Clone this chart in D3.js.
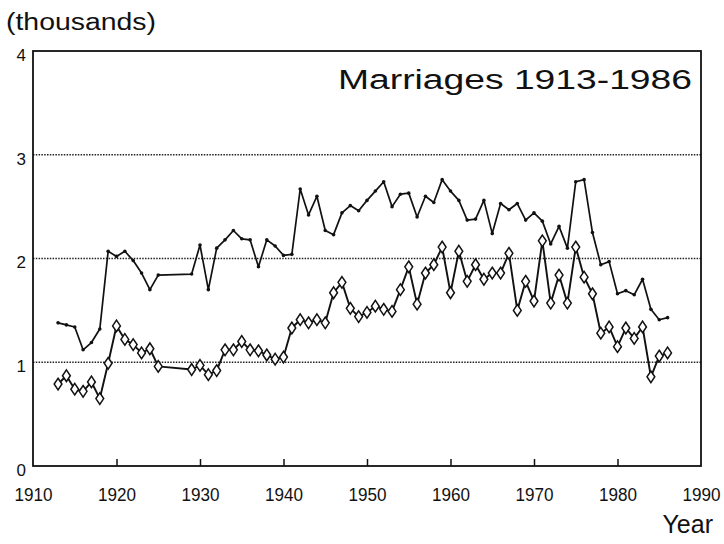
<!DOCTYPE html>
<html>
<head>
<meta charset="utf-8">
<script src="https://cdn.jsdelivr.net/npm/d3@7"></script>
<style>
  body { margin: 0; background: #fff; }
  text { font-family: "Liberation Sans", Arial, sans-serif; fill: #111; }
</style>
</head>
<body>
<div id="chart"></div>
<script>
// years 1913-1986, values in thousands (1926-1928 missing)
const years = d3.range(1913, 1987);
const lineSeries = [
  1.38, 1.36, 1.34, 1.12, 1.19, 1.32, 2.07, 2.02, 2.07, 1.98,
  1.86, 1.70, 1.84, null, null, null, 1.85, 2.13, 1.70, 2.10,
  2.18, 2.27, 2.19, 2.18, 1.92, 2.18, 2.12, 2.03, 2.04, 2.67,
  2.42, 2.60, 2.27, 2.23, 2.44, 2.51, 2.46, 2.56, 2.65, 2.74,
  2.50, 2.62, 2.63, 2.40, 2.60, 2.54, 2.76, 2.65, 2.56, 2.37,
  2.38, 2.56, 2.24, 2.53, 2.47, 2.53, 2.37, 2.44, 2.36, 2.14,
  2.31, 2.10, 2.74, 2.76, 2.25, 1.94, 1.97, 1.66, 1.69, 1.65,
  1.80, 1.51, 1.41, 1.43
];
const diamondSeries = [
  0.79, 0.87, 0.74, 0.72, 0.81, 0.65, 0.99, 1.35, 1.22, 1.17,
  1.09, 1.13, 0.96, null, null, null, 0.93, 0.97, 0.88, 0.92,
  1.12, 1.12, 1.20, 1.12, 1.11, 1.07, 1.03, 1.05, 1.33, 1.41,
  1.38, 1.41, 1.38, 1.67, 1.77, 1.52, 1.44, 1.48, 1.54, 1.51,
  1.49, 1.70, 1.92, 1.56, 1.86, 1.94, 2.11, 1.67, 2.07, 1.78,
  1.94, 1.80, 1.86, 1.86, 2.05, 1.50, 1.78, 1.59, 2.17, 1.57,
  1.84, 1.57, 2.11, 1.82, 1.66, 1.28, 1.34, 1.15, 1.33, 1.23,
  1.34, 0.86, 1.06, 1.09
];
const xTicks = d3.range(1910, 1991, 10);
const yTicks = [0, 1, 2, 3, 4];
const gridValues = [1, 2, 3];

const width = 724, height = 544;
const plotLeft = 33, plotRight = 701, plotTop = 51, plotBottom = 466;

const svg = d3.select("#chart").append("svg")
    .attr("width", width)
    .attr("height", height);

const x = d3.scaleLinear().domain([1910, 1990]).range([plotLeft, plotRight]);
const y = d3.scaleLinear().domain([0, 4]).range([plotBottom, plotTop]);

// dotted grid
svg.append("g")
  .selectAll("line")
  .data(gridValues)
  .join("line")
    .attr("x1", plotLeft).attr("x2", plotRight)
    .attr("y1", d => y(d)).attr("y2", d => y(d))
    .attr("stroke", "#222")
    .attr("stroke-width", 1.5)
    .attr("stroke-dasharray", "1.5,1.3");

// frame
svg.append("rect")
    .attr("x", plotLeft).attr("y", plotTop)
    .attr("width", plotRight - plotLeft).attr("height", plotBottom - plotTop)
    .attr("fill", "none")
    .attr("stroke", "#111")
    .attr("stroke-width", 1.8);

// x axis: ticks point inward
const xAxis = svg.append("g")
    .attr("transform", `translate(0,${plotBottom})`)
    .call(d3.axisBottom(x).tickValues(xTicks).tickFormat(d3.format("d")).tickSize(0).tickPadding(22));
xAxis.select(".domain").remove();
xAxis.selectAll(".tick line")
    .attr("y2", d => (d === 1910 || d === 1990) ? 0 : -7)
    .attr("stroke", "#111").attr("stroke-width", 1.5);
xAxis.selectAll(".tick text")
    .attr("font-size", 18)
    .attr("textLength", 38)
    .attr("lengthAdjust", "spacingAndGlyphs")
    .style("font-family", "'Liberation Sans', Arial, sans-serif")
    .attr("fill", "#111");

// y axis labels
const yAxis = svg.append("g")
    .attr("transform", `translate(${plotLeft},0)`)
    .call(d3.axisLeft(y).tickValues(yTicks).tickFormat(d3.format("d")).tickSize(0).tickPadding(7));
yAxis.select(".domain").remove();
yAxis.selectAll(".tick text")
    .attr("font-size", 17)
    .attr("dy", "0.55em")
    .style("font-family", "'Liberation Sans', Arial, sans-serif")
    .attr("fill", "#111");

// series
const lineData = years.map((yr, i) => ({ year: yr, v: lineSeries[i] })).filter(d => d.v != null);
const diamondData = years.map((yr, i) => ({ year: yr, v: diamondSeries[i] })).filter(d => d.v != null);

const line = d3.line().x(d => x(d.year)).y(d => y(d.v));

svg.append("path")
    .datum(lineData)
    .attr("d", line)
    .attr("fill", "none")
    .attr("stroke", "#111")
    .attr("stroke-width", 1.7)
    .attr("stroke-linejoin", "round");

svg.append("g")
  .selectAll("circle")
  .data(lineData)
  .join("circle")
    .attr("cx", d => x(d.year))
    .attr("cy", d => y(d.v))
    .attr("r", 1.8)
    .attr("fill", "#111");

svg.append("path")
    .datum(diamondData)
    .attr("d", line)
    .attr("fill", "none")
    .attr("stroke", "#111")
    .attr("stroke-width", 1.9)
    .attr("stroke-linejoin", "round");

svg.append("g")
  .selectAll("path")
  .data(diamondData)
  .join("path")
    .attr("transform", d => `translate(${x(d.year)},${y(d.v)})`)
    .attr("d", "M0,-5.8L3.9,0L0,5.8L-3.9,0Z")
    .attr("fill", "#fff")
    .attr("stroke", "#111")
    .attr("stroke-width", 1.5);

// labels
svg.append("text")
    .attr("x", 6).attr("y", 30)
    .attr("font-size", 23)
    .attr("textLength", 150)
    .attr("lengthAdjust", "spacingAndGlyphs")
    .text("(thousands)");

svg.append("text")
    .attr("x", 338).attr("y", 89)
    .attr("font-size", 27)
    .attr("textLength", 354)
    .attr("lengthAdjust", "spacingAndGlyphs")
    .text("Marriages 1913-1986");

svg.append("text")
    .attr("x", 713).attr("y", 533)
    .attr("text-anchor", "end")
    .attr("font-size", 25)
    .text("Year");
</script>
</body>
</html>
